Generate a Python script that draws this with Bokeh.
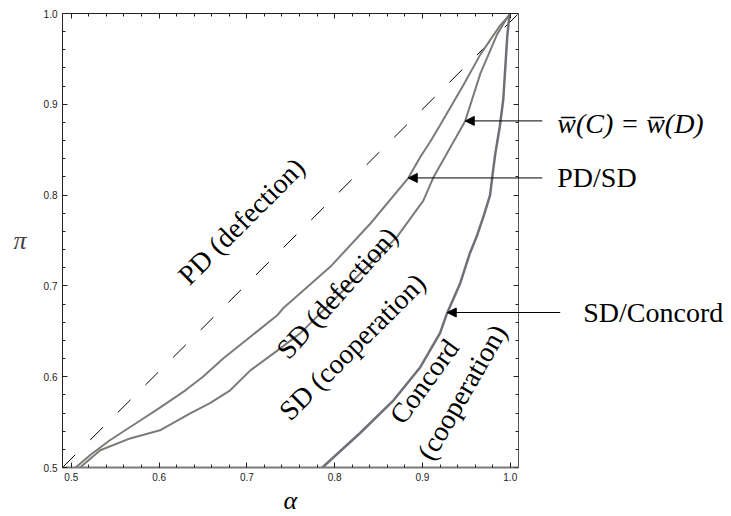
from bokeh.plotting import figure
from bokeh.models import FixedTicker, LinearAxis, Label, Arrow, NormalHead, Range1d, Title
from bokeh.embed import file_html
from bokeh.resources import INLINE

# ---- data ----
x_ticks = [0.5, 0.6, 0.7, 0.8, 0.9, 1.0]
x_tick_labels = ["0.5", "0.6", "0.7", "0.8", "0.9", "1.0"]
y_ticks = [0.5, 0.6, 0.7, 0.8, 0.9, 1.0]
y_tick_labels = ["0.5", "0.6", "0.7", "0.8", "0.9", "1.0"]
minor_ticks = [0.50, 0.52, 0.54, 0.56, 0.58, 0.60, 0.62, 0.64, 0.66, 0.68, 0.70,
               0.72, 0.74, 0.76, 0.78, 0.80, 0.82, 0.84, 0.86, 0.88, 0.90,
               0.92, 0.94, 0.96, 0.98, 1.00]
alpha_lim = (0.49, 1.0095)   # plotted box in alpha
pi_lim = (0.5, 1.0)          # plotted box in pi
alpha_view_end = 1.2497      # frame continues right to hold the callouts

# dashed reference line (corner to corner)
diag_alpha = [0.49, 1.0095]
diag_pi = [0.5, 1.0]

# PD/SD boundary
pdsd_alpha = [0.505, 0.522, 0.544, 0.579, 0.601, 0.630, 0.650, 0.673, 0.704, 0.735,
              0.741, 0.795, 0.841, 0.884, 0.8975, 0.909, 0.920, 0.9465, 0.966, 0.9886, 0.998, 1.0]
pdsd_pi = [0.500, 0.514, 0.530, 0.552, 0.566, 0.585, 0.600, 0.620, 0.644, 0.668,
           0.675, 0.721, 0.769, 0.819, 0.842, 0.859, 0.877, 0.921, 0.955, 0.987, 0.997, 1.0]

# w(C) = w(D) curve
wcd_alpha = [0.510, 0.533, 0.567, 0.601, 0.636, 0.658, 0.681, 0.704, 0.735, 0.761,
             0.818, 0.871, 0.901, 0.9127, 0.9487, 0.966, 0.985, 0.9966, 1.0]
wcd_pi = [0.500, 0.519, 0.532, 0.541, 0.560, 0.571, 0.585, 0.607, 0.629, 0.648,
          0.703, 0.754, 0.794, 0.820, 0.8817, 0.934, 0.977, 0.9955, 1.0]

# SD/Concord boundary
sdc_alpha = [0.786, 0.829, 0.867, 0.8975, 0.920, 0.928, 0.943, 0.954, 0.962, 0.970,
             0.977, 0.980, 0.983, 0.988, 0.992, 0.994, 0.9966, 0.999]
sdc_pi = [0.500, 0.538, 0.574, 0.6105, 0.648, 0.670, 0.703, 0.736, 0.755, 0.778,
          0.800, 0.824, 0.846, 0.875, 0.905, 0.935, 0.975, 0.998]

# region labels: text, alpha, pi, angle (deg)
region_text = ["PD (defection)", "SD (defection)", "SD (cooperation)", "Concord", "(cooperation)"]
region_alpha = [0.6936, 0.8028, 0.8200, 0.9020, 0.9450]
region_pi = [0.7713, 0.6922, 0.6330, 0.5947, 0.5830]
region_angle = [45, 48, 45, 54, 60]

# callouts
call_text = ["w\u0305(C) = w\u0305(D)", "PD/SD", "SD/Concord"]
call_style = ["italic", "normal", "normal"]
call_text_alpha = [1.0535, 1.0535, 1.0831]
call_text_pi = [0.8792, 0.8190, 0.6707]
arrow_start_alpha = [1.0364, 1.0364, 1.0569]
arrow_end_alpha = [0.9487, 0.8838, 0.9282]
arrow_pi = [0.8817, 0.8189, 0.6707]

SERIF = "Liberation Serif"
INK = "#222222"

p = figure(frame_width=667, frame_height=454,
           x_range=Range1d(alpha_lim[0], alpha_view_end), y_range=Range1d(*pi_lim),
           output_backend="svg", toolbar_location=None,
           min_border_left=62, min_border_top=13, min_border_right=0, min_border_bottom=20,
           background_fill_color="white", border_fill_color="white")
p.xgrid.visible = False
p.ygrid.visible = False
p.outline_line_color = None

def style_axis(ax, ticks, labels, show_labels=True):
    ax.ticker = FixedTicker(ticks=ticks, minor_ticks=minor_ticks)
    ax.major_tick_in = 5
    ax.major_tick_out = 0
    ax.minor_tick_in = 3
    ax.minor_tick_out = 0
    ax.major_tick_line_color = INK
    ax.minor_tick_line_color = INK
    ax.axis_line_color = INK
    ax.axis_line_width = 1
    if show_labels:
        ax.major_label_overrides = {t: l for t, l in zip(ticks, labels)}
        ax.major_label_text_font = "Liberation Sans"
        ax.major_label_text_font_size = "10px"
        ax.major_label_text_color = INK
        ax.major_label_standoff = 5
    else:
        ax.major_label_text_font_size = "0px"
        ax.major_label_text_color = None
        ax.major_label_standoff = 0

bottom = p.xaxis[0]
style_axis(bottom, x_ticks, x_tick_labels)
bottom.bounds = alpha_lim
bottom.axis_line_color = "#7a7a7a"
bottom.axis_line_width = 2

left = p.yaxis[0]
style_axis(left, y_ticks, y_tick_labels)
left.axis_label = "\u03c0"
left.axis_label_orientation = "horizontal"
left.axis_label_text_font = SERIF
left.axis_label_text_font_style = "italic"
left.axis_label_text_font_size = "26px"
left.axis_label_standoff = 14

top = LinearAxis(bounds=alpha_lim)
style_axis(top, x_ticks, x_tick_labels, show_labels=False)
p.add_layout(top, "above")
right = LinearAxis(fixed_location=alpha_lim[1], bounds=pi_lim)
style_axis(right, y_ticks, y_tick_labels, show_labels=False)
right.axis_line_color = "#555555"
p.add_layout(right, "right")

# alpha axis title, centred under the plotted box
p.add_layout(Title(text="\u03b1", align="left", offset=221, standoff=0,
                   text_font=SERIF, text_font_style="italic", text_font_size="26px",
                   text_color="black"), "below")

# curves
p.line(diag_alpha, diag_pi, line_color="black", line_width=1, line_dash="18 21")
p.line(pdsd_alpha, pdsd_pi, line_color="#7d7b78", line_width=2)
p.line(wcd_alpha, wcd_pi, line_color="#7d7b78", line_width=2)
p.line(sdc_alpha, sdc_pi, line_color="#6f6f76", line_width=2.5)

# region labels
for t, a, pi_, ang in zip(region_text, region_alpha, region_pi, region_angle):
    p.add_layout(Label(x=a, y=pi_, text=t, angle=ang, angle_units="deg",
                       text_align="center", text_baseline="middle",
                       text_font=SERIF, text_font_size="28px", text_color="black"))

# callouts
for t, st, ta, tp in zip(call_text, call_style, call_text_alpha, call_text_pi):
    p.add_layout(Label(x=ta, y=tp, text=t, text_align="left", text_baseline="middle",
                       text_font=SERIF, text_font_style=st, text_font_size="28px",
                       text_color="black"))
for xs, xe, yy in zip(arrow_start_alpha, arrow_end_alpha, arrow_pi):
    p.add_layout(Arrow(x_start=xs, y_start=yy, x_end=xe, y_end=yy,
                       line_color="black", line_width=1,
                       end=NormalHead(size=9, fill_color="black", line_color="black")))

open("out.html", "w").write(file_html(p, INLINE))
